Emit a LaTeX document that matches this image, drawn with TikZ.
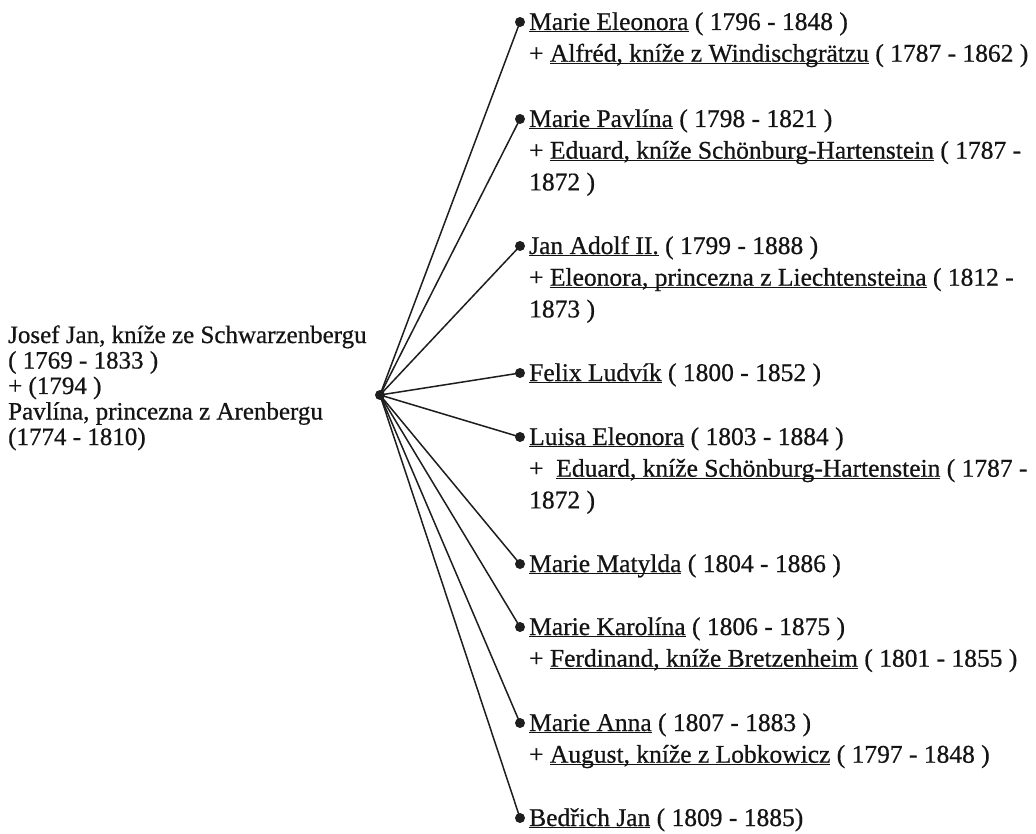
\documentclass[tikz,border=0pt]{standalone}
\usepackage{fontspec}
\setmainfont[RawFeature={embolden=0.6}]{Liberation Serif}
\newcommand{\lnk}[1]{\setbox0\hbox{#1}\rlap{\rule[-2pt]{\wd0}{0.9pt}}\box0\relax}
\definecolor{linecol}{HTML}{1E1E1E}
\definecolor{txtcol}{HTML}{141414}
\begin{document}
\begin{tikzpicture}[x=1pt,y=-1pt,
  dotnode/.style={circle,fill=linecol,inner sep=0pt,minimum size=10pt},
  lbl/.style={anchor=base west,inner sep=0pt,font=\fontsize{25.5}{31.7}\selectfont,text=txtcol},
  lefttxt/.style={anchor=base west,inner sep=0pt,font=\fontsize{25}{25.5}\selectfont,text=txtcol},
  conn/.style={draw=linecol,line width=1.5pt}]
\fill[white] (0,0) rectangle (1036,834);
\useasboundingbox (0,0) rectangle (1036,834);

% parent
\node[lefttxt] (p) at (8,343) {\begin{tabular}[t]{@{}l@{}}Josef Jan, kníže ze Schwarzenbergu\\( 1769 - 1833 )\\+ (1794 )\\Pavlína, princezna z Arenbergu\\(1774 - 1810)\end{tabular}};
\node[dotnode] (h) at (380,395) {};

% child dots
\node[dotnode] (d1) at (520,22) {};
\node[dotnode] (d2) at (520,119) {};
\node[dotnode] (d3) at (520,246) {};
\node[dotnode] (d4) at (520,373) {};
\node[dotnode] (d5) at (520,437) {};
\node[dotnode] (d6) at (520,564) {};
\node[dotnode] (d7) at (520,627) {};
\node[dotnode] (d8) at (520,723) {};
\node[dotnode] (d9) at (520,818) {};

% child texts
\node[lbl] (c1) at (529,30) {\begin{tabular}[t]{@{}l@{}}\lnk{Marie Eleonora} ( 1796 - 1848 )\\+ \lnk{Alfréd, kníže z Windischgrätzu} ( 1787 - 1862 )\end{tabular}};
\node[lbl] (c2) at (529,127) {\begin{tabular}[t]{@{}l@{}}\lnk{Marie Pavlína} ( 1798 - 1821 )\\+ \lnk{Eduard, kníže Schönburg-Hartenstein} ( 1787 -\\1872 )\end{tabular}};
\node[lbl] (c3) at (529,254) {\begin{tabular}[t]{@{}l@{}}\lnk{Jan Adolf II.} ( 1799 - 1888 )\\+ \lnk{Eleonora, princezna z Liechtensteina} ( 1812 -\\1873 )\end{tabular}};
\node[lbl] (c4) at (529,381) {\lnk{Felix Ludvík} ( 1800 - 1852 )};
\node[lbl] (c5) at (529,445) {\begin{tabular}[t]{@{}l@{}}\lnk{Luisa Eleonora} ( 1803 - 1884 )\\+\ \ \lnk{Eduard, kníže Schönburg-Hartenstein} ( 1787 -\\1872 )\end{tabular}};
\node[lbl] (c6) at (529,572) {\lnk{Marie Matylda} ( 1804 - 1886 )};
\node[lbl] (c7) at (529,635) {\begin{tabular}[t]{@{}l@{}}\lnk{Marie Karolína} ( 1806 - 1875 )\\+ \lnk{Ferdinand, kníže Bretzenheim} ( 1801 - 1855 )\end{tabular}};
\node[lbl] (c8) at (529,731) {\begin{tabular}[t]{@{}l@{}}\lnk{Marie Anna} ( 1807 - 1883 )\\+ \lnk{August, kníže z Lobkowicz} ( 1797 - 1848 )\end{tabular}};
\node[lbl] (c9) at (529,826) {\lnk{Bedřich Jan} ( 1809 - 1885)};

% connectors
\foreach \i in {1,...,9} {
  \draw[conn] (h.center) -- (d\i.center);
}
\end{tikzpicture}
\end{document}
